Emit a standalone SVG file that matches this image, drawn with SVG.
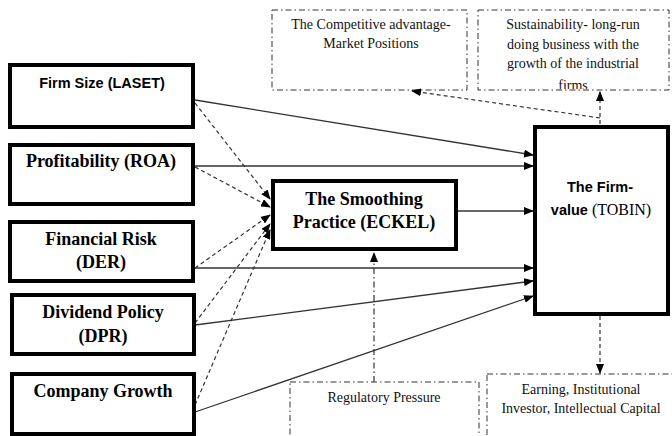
<svg xmlns="http://www.w3.org/2000/svg" width="672" height="436" viewBox="0 0 672 436">
<defs>
<marker id="ah" markerWidth="10" markerHeight="8" refX="9" refY="4" orient="auto" markerUnits="userSpaceOnUse"><path d="M0,0 L10,4 L0,8 Z" fill="#000"/></marker>
<clipPath id="clipSus"><rect x="478" y="10" width="191" height="79"/></clipPath>
<style>
.box{fill:#fff;stroke:#000;stroke-width:4}
.dbox{fill:#fff;stroke:#333;stroke-width:1;stroke-dasharray:6,3,1.5,3}
.sb{font-weight:bold;font-size:18px;fill:#000;text-anchor:middle}
.ss{font-weight:bold;font-size:14.5px;fill:#000;text-anchor:middle}
.sm{font-size:14px;fill:#111;text-anchor:middle}
.sol{stroke:#333;stroke-width:1.3;fill:none;marker-end:url(#ah)}
.dsh{stroke:#333;stroke-width:1.2;fill:none;stroke-dasharray:4,3;marker-end:url(#ah)}
.dd{stroke:#333;stroke-width:1.2;fill:none;stroke-dasharray:6,3,1.5,3;marker-end:url(#ah)}
</style>
</defs>
<rect width="672" height="436" fill="#fff"/>
<g id="n-competitive"><rect class="dbox" x="272" y="10" width="195" height="80"/><text class="sm" font-family="Liberation Serif, Tinos, DejaVu Serif, serif" x="371" y="29">The Competitive  advantage-</text><text class="sm" font-family="Liberation Serif, Tinos, DejaVu Serif, serif" x="371" y="48">Market Positions</text></g>
<g id="n-sustainability"><rect class="dbox" x="478" y="10" width="191" height="80"/><g clip-path="url(#clipSus)"><text class="sm" font-family="Liberation Serif, Tinos, DejaVu Serif, serif" x="573" y="29">Sustainability- long-run</text><text class="sm" font-family="Liberation Serif, Tinos, DejaVu Serif, serif" x="573" y="49">doing business with the</text><text class="sm" font-family="Liberation Serif, Tinos, DejaVu Serif, serif" x="573" y="68">growth of the industrial</text><text class="sm" font-family="Liberation Serif, Tinos, DejaVu Serif, serif" x="573" y="90">firms</text></g></g>
<g id="n-regulatory"><rect class="dbox" x="290" y="382" width="189" height="60"/><text class="sm" font-family="Liberation Serif, Tinos, DejaVu Serif, serif" x="384" y="402">Regulatory Pressure</text></g>
<g id="n-earning"><rect class="dbox" x="487" y="374" width="190" height="70"/><text class="sm" font-family="Liberation Serif, Tinos, DejaVu Serif, serif" x="581" y="394">Earning, Institutional</text><text class="sm" font-family="Liberation Serif, Tinos, DejaVu Serif, serif" x="581" y="413">Investor, Intellectual Capital</text></g>
<g id="connectors">
<line class="sol" x1="195" y1="100" x2="533" y2="155"/>
<line class="sol" x1="195" y1="166" x2="533" y2="166"/>
<line class="sol" x1="457" y1="211" x2="533" y2="211"/>
<line class="sol" x1="195" y1="268" x2="533" y2="268"/>
<line class="sol" x1="195" y1="325" x2="533" y2="281"/>
<line class="sol" x1="195" y1="412" x2="533" y2="296"/>
<line class="dsh" x1="195" y1="103" x2="270" y2="199"/>
<line class="dsh" x1="195" y1="167" x2="270" y2="207"/>
<line class="dsh" x1="195" y1="268" x2="270" y2="215"/>
<line class="dsh" x1="195" y1="323" x2="270" y2="224"/>
<line class="dsh" x1="195" y1="405" x2="270" y2="230"/>
<line class="dsh" x1="600" y1="124" x2="600" y2="92"/>
<line class="dsh" x1="600" y1="118" x2="412" y2="91"/>
<line class="dsh" x1="600" y1="316" x2="600" y2="373"/>
<line class="dd" x1="374" y1="382" x2="374" y2="253"/>
</g>
<g id="n-firmsize"><rect class="box" x="10" y="65" width="183" height="62"/><text class="ss" font-family="Liberation Sans, Arial, sans-serif" x="102" y="88">Firm Size (LASET)</text></g>
<g id="n-profitability"><rect class="box" x="10" y="145" width="183" height="59"/><text class="sb" font-family="Liberation Serif, Tinos, DejaVu Serif, serif" x="101" y="167">Profitability (ROA)</text></g>
<g id="n-financial"><rect class="box" x="10" y="222" width="183" height="59"/><text class="sb" font-family="Liberation Serif, Tinos, DejaVu Serif, serif" x="101" y="245">Financial Risk</text><text class="sb" font-family="Liberation Serif, Tinos, DejaVu Serif, serif" x="101" y="268">(DER)</text></g>
<g id="n-dividend"><rect class="box" x="12" y="295" width="182" height="59"/><text class="sb" font-family="Liberation Serif, Tinos, DejaVu Serif, serif" x="103" y="318">Dividend Policy</text><text class="sb" font-family="Liberation Serif, Tinos, DejaVu Serif, serif" x="103" y="342">(DPR)</text></g>
<g id="n-growth"><rect class="box" x="12" y="374" width="182" height="60"/><text class="sb" font-family="Liberation Serif, Tinos, DejaVu Serif, serif" x="103" y="397">Company Growth</text></g>
<g id="n-smoothing"><rect class="box" x="273" y="181" width="183" height="68"/><text class="sb" font-family="Liberation Serif, Tinos, DejaVu Serif, serif" x="364" y="205">The Smoothing</text><text class="sb" font-family="Liberation Serif, Tinos, DejaVu Serif, serif" x="364" y="228">Practice (ECKEL)</text></g>
<g id="n-firmvalue"><rect class="box" x="535" y="127" width="133" height="187"/><text class="ss" font-family="Liberation Sans, Arial, sans-serif" x="600" y="192">The Firm-</text><text x="601" y="215" text-anchor="middle"><tspan font-family="Liberation Sans, Arial, sans-serif" font-weight="bold" font-size="14.5">value </tspan><tspan font-family="Liberation Serif, Tinos, DejaVu Serif, serif" font-size="16">(TOBIN)</tspan></text></g>
</svg>
